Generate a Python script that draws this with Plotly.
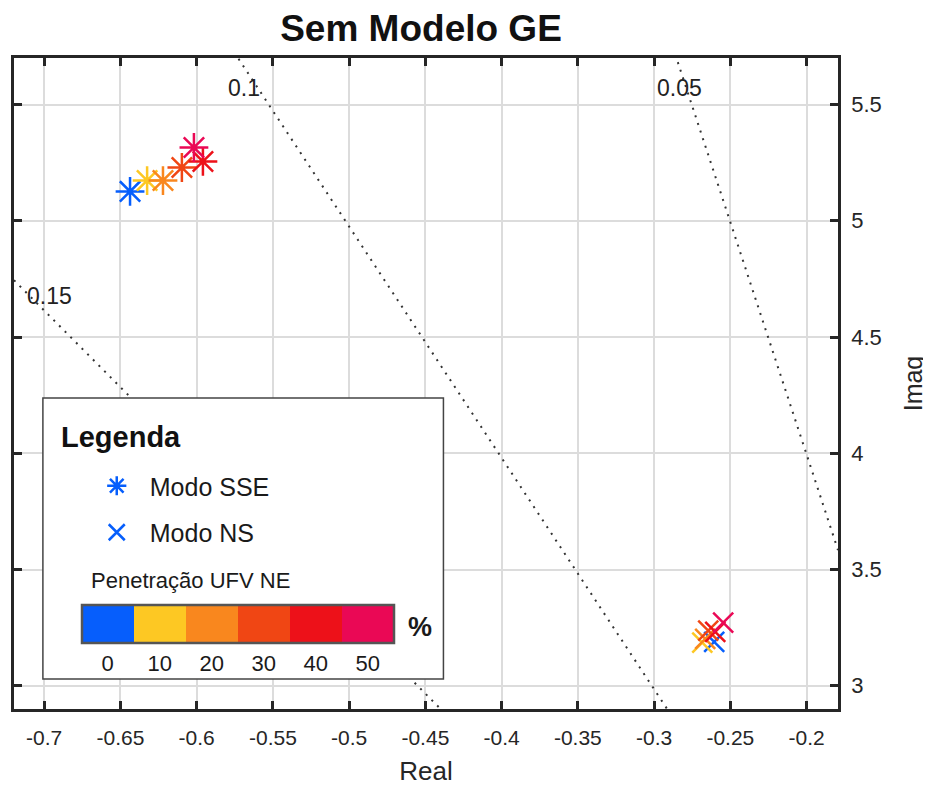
import numpy as np
import plotly.graph_objects as go

# ---- data ----
penetration = [0, 10, 20, 30, 40, 50]
sse_real = [-0.6437, -0.6325, -0.6221, -0.6097, -0.5959, -0.6018]
sse_imag = [5.126, 5.173, 5.173, 5.229, 5.255, 5.315]
ns_real = [-0.2606, -0.2684, -0.2665, -0.2645, -0.2599, -0.2547]
ns_imag = [3.189, 3.185, 3.202, 3.237, 3.232, 3.271]
colors = ["#065EFC", "#FDC823", "#F9871E", "#F04614", "#ED1119", "#EA0855"]
zetas = [0.05, 0.1, 0.15]
zeta_labels = ["0.05", "0.1", "0.15"]
zeta_label_pos = [(-0.2835, 5.573), (-0.5691, 5.573), (-0.6966, 4.678)]
x_ticks = [-0.7, -0.65, -0.6, -0.55, -0.5, -0.45, -0.4, -0.35, -0.3, -0.25, -0.2]
y_ticks = [3, 3.5, 4, 4.5, 5, 5.5]

XR = [-0.7198, -0.1794]
YR = [2.90, 5.70]

FONT = "Liberation Sans, Arial, sans-serif"
AX = "#262626"

# page body margin offset compensation (browser default 8px)
OFF = 8
PL, PT, PR, PB = 11, 58, 838, 709      # target plot area in screenshot pixels
PW, PH = PR - PL, PB - PT


def px(x):
    return (x - PL) / PW


def py(y):
    return (PB - y) / PH


# discrete colorscale
n = len(colors)
cscale = []
for i, c in enumerate(colors):
    cscale.append([i / n, c])
    cscale.append([(i + 1) / n, c])

fig = go.Figure()

# damping ratio lines
rr = np.linspace(XR[0], XR[1], 200)
for z in zetas:
    im = -rr * np.sqrt(1 - z ** 2) / z
    fig.add_trace(go.Scatter(x=rr, y=im, mode="lines",
                             line=dict(color="#333333", width=2, dash="2px,6px"),
                             showlegend=False, hoverinfo="skip"))

fig.add_trace(go.Scatter(
    x=sse_real, y=sse_imag, mode="markers", name="Modo SSE", legendgroup="sse",
    marker=dict(symbol="asterisk-open", size=24, color=penetration,
                colorscale=cscale, cmin=-5, cmax=55,
                line=dict(width=2.5),
                showscale=True,
                colorbar=dict(orientation="h", x=px((79 + 392) / 2), xanchor="center",
                              y=py(605), yanchor="top", len=313 / PW, lenmode="fraction",
                              thickness=38, thicknessmode="pixels",
                              outlinecolor="#555555", outlinewidth=2.5,
                              tickvals=penetration, ticks="",
                              tickfont=dict(family=FONT, size=22, color="#1a1a1a"),
                              xpad=0, ypad=0))))

fig.add_trace(go.Scatter(
    x=ns_real, y=ns_imag, mode="markers", name="Modo NS", legendgroup="ns",
    marker=dict(symbol="x-thin-open", size=20, color=penetration,
                colorscale=cscale, cmin=-5, cmax=55,
                line=dict(width=2.5), showscale=False)))

# legend box
fig.add_shape(type="rect", xref="paper", yref="paper",
              x0=px(40), x1=px(442), y0=py(679), y1=py(398),
              fillcolor="white", line=dict(color="#444444", width=1.5), layer="above")

for t, (lx, ly) in zip(zeta_labels, zeta_label_pos):
    fig.add_annotation(x=lx, y=ly, text=t, showarrow=False,
                       font=dict(family=FONT, size=23, color="#222222"))

fig.add_annotation(xref="paper", yref="paper", x=px(56), y=py(437),
                   xanchor="left", yanchor="middle", text="<b>Legenda</b>", showarrow=False,
                   font=dict(family=FONT, size=29, color="#111111"))
fig.add_annotation(xref="paper", yref="paper", x=px(86), y=py(580),
                   xanchor="left", yanchor="middle", text="Penetração UFV NE", showarrow=False,
                   font=dict(family=FONT, size=22, color="#1a1a1a"))
fig.add_annotation(xref="paper", yref="paper", x=px(418), y=py(627),
                   xanchor="center", yanchor="middle", text="<b>%</b>", showarrow=False,
                   font=dict(family=FONT, size=27, color="#1a1a1a"))

fig.update_layout(
    width=931, height=792,
    margin=dict(l=PL - OFF, r=931 - PR + OFF, t=PT - OFF, b=792 - PB + OFF),
    paper_bgcolor="white", plot_bgcolor="white",
    title=dict(text="<b>Sem Modelo GE</b>", x=(421 - OFF) / 931, xanchor="center",
               y=1 - (28 - OFF) / 792, yanchor="middle",
               font=dict(family=FONT, size=37, color="#111111")),
    font=dict(family=FONT, color=AX),
    showlegend=True,
    legend=dict(x=px(81), y=py(463), xanchor="left", yanchor="top",
                bgcolor="rgba(0,0,0,0)", borderwidth=0,
                font=dict(family=FONT, size=25, color="#1a1a1a"),
                itemsizing="trace", itemwidth=56, tracegroupgap=11),
    xaxis=dict(range=XR, tickvals=x_ticks, ticktext=[f"{v:g}" for v in x_ticks],
               showgrid=True, gridcolor="#dcdcdc", gridwidth=1.8, zeroline=False,
               showline=True, linecolor=AX, linewidth=2.5, mirror="ticks",
               ticks="inside", ticklen=8, tickwidth=2.5, tickcolor=AX,
               ticklabelstandoff=8,
               tickfont=dict(family=FONT, size=21, color=AX),
               title=dict(text="Real", font=dict(family=FONT, size=26, color=AX), standoff=14)),
    yaxis=dict(range=YR, tickvals=y_ticks, ticktext=[f"{v:g}" for v in y_ticks], side="right",
               showgrid=True, gridcolor="#dcdcdc", gridwidth=1.8, zeroline=False,
               showline=True, linecolor=AX, linewidth=2.5, mirror="ticks",
               ticks="inside", ticklen=8, tickwidth=2.5, tickcolor=AX,
               ticklabelstandoff=6,
               tickfont=dict(family=FONT, size=22, color=AX),
               title=dict(text="Imag", font=dict(family=FONT, size=25, color=AX), standoff=24)),
)

fig.write_html("out.html")
